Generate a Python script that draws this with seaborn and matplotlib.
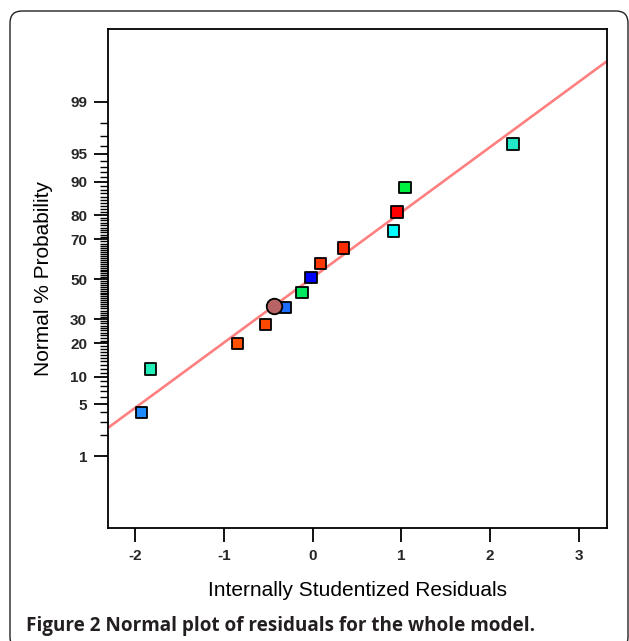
import numpy as np
import pandas as pd
import matplotlib
matplotlib.use("Agg")
import matplotlib.pyplot as plt
from matplotlib.patches import FancyBboxPatch
from matplotlib.transforms import IdentityTransform
import seaborn as sns
from statistics import NormalDist

# residuals (x) and their normal % probability (y)
residuals = [-1.93, -1.83, -0.85, -0.53, -0.31, -0.12, -0.02, 0.09, 0.35, 0.91, 0.95, 1.04, 2.26]
probability = [4.0, 11.9, 19.8, 27.6, 35.5, 43.0, 50.9, 58.3, 65.8, 73.6, 81.1, 88.6, 96.2]
point_colors = ["#1E8CFF", "#22EDB8", "#FF5000", "#FF4800", "#1E6EFF", "#00E860", "#0000FF",
                "#FF3800", "#FF2C00", "#00FFFF", "#FF0000", "#00F040", "#22E8C8"]

# highlighted point (circle)
marked_x = [-0.44]
marked_y = [36.3]

# fitted normal line, ends at the plot edges
fit_x = [-2.31, 3.32]
fit_y = [2.54, 99.79]

y_major = [1, 5, 10, 20, 30, 50, 70, 80, 90, 95, 99]
x_ticks = [-2, -1, 0, 1, 2, 3]

df = pd.DataFrame({"resid": residuals, "prob": probability, "run": range(len(residuals))})

nd = NormalDist()

def probit(p):
    p = np.clip(np.asarray(p, dtype=float) / 100.0, 1e-12, 1 - 1e-12)
    return np.vectorize(nd.inv_cdf, otypes=[float])(p)

def probit_inv(z):
    return np.vectorize(nd.cdf, otypes=[float])(np.asarray(z, dtype=float)) * 100.0

sns.set_style("ticks")
plt.rcParams["font.family"] = ["Liberation Sans", "DejaVu Sans"]

fig = plt.figure(figsize=(6.29, 6.41), dpi=100)
ax = fig.add_axes([108 / 629, 113 / 641, 499 / 629, 499 / 641])
ax.set_yscale("function", functions=(probit, probit_inv))

sns.lineplot(x=fit_x, y=fit_y, ax=ax, color="#FF8080", linewidth=1.9, zorder=2)
sns.scatterplot(data=df, x="resid", y="prob", hue="run", palette=point_colors, marker="s",
                s=66, edgecolor="black", linewidth=1.3, legend=False, ax=ax, zorder=3)
sns.scatterplot(x=marked_x, y=marked_y, marker="o", s=125, color="#B86464",
                edgecolor="black", linewidth=1.3, ax=ax, zorder=3)

ax.set_xlim(-2.31, 3.32)
ax.set_ylim(0.054, 99.949)

ax.set_xticks(x_ticks)
ax.set_xticklabels([str(t) for t in x_ticks])
ax.set_yticks(y_major)
ax.set_yticklabels([str(t) for t in y_major])
minor = [p for p in list(range(2, 99)) if p not in y_major]
ax.set_yticks(minor, minor=True)

for lab in ax.get_xticklabels() + ax.get_yticklabels():
    lab.set_fontweight("bold")
    lab.set_fontsize(11)
ax.tick_params(axis="both", which="major", direction="out", length=10, width=1.3, pad=5, color="black")
ax.tick_params(axis="y", which="minor", direction="out", length=5.5, width=1.0, color="black")

for sp in ax.spines.values():
    sp.set_visible(True)
    sp.set_linewidth(1.3)
    sp.set_color("black")

ax.set_xlabel("Internally Studentized Residuals", fontsize=15, labelpad=13, color="black")
ax.set_ylabel("Normal % Probability", fontsize=15, labelpad=12, color="black")

# rounded frame around the figure
frame = FancyBboxPatch((10, -8), 618, 638, boxstyle="round,pad=0,rounding_size=12",
                       transform=IdentityTransform(), facecolor="none",
                       edgecolor="#222222", linewidth=1.0)
fig.add_artist(frame)

fig.text(26 / 629, 1 - 631 / 641, "Figure 2 Normal plot of residuals for the whole model.",
         fontsize=13.6, fontweight="bold", color="#231F20",
         family=["Open Sans", "DejaVu Sans"], ha="left", va="baseline")

fig.savefig("out.png", dpi=100)
